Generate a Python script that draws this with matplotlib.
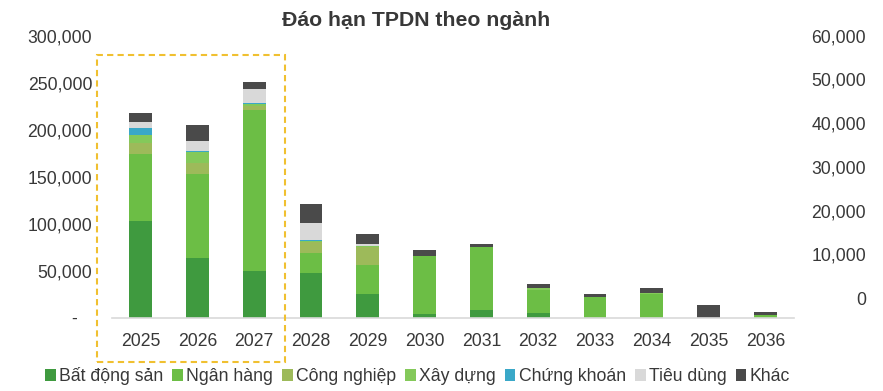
import numpy as np
import matplotlib.pyplot as plt
from matplotlib.patches import Rectangle

plt.rcParams["font.family"] = ["Liberation Sans", "DejaVu Sans"]

years = ["2025", "2026", "2027", "2028", "2029", "2030",
         "2031", "2032", "2033", "2034", "2035", "2036"]

# values (ty dong)
bat_dong_san = [103200, 63800, 50000, 47200, 24800, 3500, 8000, 5000, 0, 0, 0, 0]
ngan_hang = [70900, 89000, 170900, 21300, 31200, 62100, 67000, 24300, 21500, 25000, 0, 2500]
cong_nghiep = [11400, 11400, 4300, 12400, 19400, 0, 0, 0, 0, 0, 0, 0]
xay_dung = [8900, 12400, 2100, 800, 1200, 0, 0, 1800, 1000, 1200, 0, 0]
chung_khoan = [7800, 1100, 1100, 1000, 0, 0, 0, 0, 0, 0, 0, 0]
tieu_dung = [6400, 10200, 14500, 18400, 1400, 0, 0, 0, 0, 0, 0, 0]
khac = [9600, 17100, 7500, 19900, 11300, 6400, 3500, 4200, 2300, 5700, 14000, 3500]

series = [
    ("Bất động sản", bat_dong_san, "#3f9a3f"),
    ("Ngân hàng", ngan_hang, "#6cbe45"),
    ("Công nghiệp", cong_nghiep, "#9dba5a"),
    ("Xây dựng", xay_dung, "#84c95a"),
    ("Chứng khoán", chung_khoan, "#3aa8c8"),
    ("Tiêu dùng", tieu_dung, "#d9d9d9"),
    ("Khác", khac, "#4a4a4a"),
]

txt = "#383838"
fig = plt.figure(figsize=(8.83, 3.91), dpi=100)
ax = fig.add_axes([0.127, 0.1875, 0.772, 0.7215])

x = np.arange(len(years))
bottom = np.zeros(len(years))
for name, vals, col in series:
    ax.bar(x, vals, 0.4, bottom=bottom, color=col, label=name)
    bottom += np.array(vals)

ax.set_xlim(-0.5, 11.5)
ax.set_ylim(0, 300000)
ax.set_yticks(range(0, 300001, 50000))
ax.set_yticklabels(["-   "] + [f"{v:,}" for v in range(50000, 300001, 50000)])
ax.set_xticks(x)
ax.set_xticklabels(years)
ax.tick_params(axis="both", length=0, labelsize=12.7, colors=txt)
ax.tick_params(axis="x", pad=11)
ax.tick_params(axis="y", pad=14.4)
for s in ["top", "right", "left"]:
    ax.spines[s].set_visible(False)
ax.spines["bottom"].set_color("#d9d9d9")
ax.spines["bottom"].set_linewidth(1.2)

# secondary axis (scale only)
ax2 = ax.twinx()
ax2.set_ylim(-4500, 60000)
ax2.set_yticks(range(0, 60001, 10000))
ax2.set_yticklabels(["0"] + [f"{v:,}" for v in range(10000, 60001, 10000)])
ax2.tick_params(axis="y", length=0, labelsize=12.7, colors=txt, pad=52)
for lab in ax2.get_yticklabels():
    lab.set_ha("right")
for s in ax2.spines.values():
    s.set_visible(False)

# highlight box around 2025-2027
ax.add_patch(Rectangle((-0.76, -47000), 3.31, 326500, fill=False,
                       edgecolor="#f0c030", lw=1.5, ls=(0, (3, 2)),
                       clip_on=False, zorder=5))

fig.text(0.471, 0.948, "Đáo hạn TPDN theo ngành", ha="center", va="center",
         fontsize=15.3, fontweight="bold", color=txt)

ax.legend(loc="center", bbox_to_anchor=(0.473, 0.038),
          bbox_transform=fig.transFigure, ncol=7, frameon=False,
          fontsize=12.7, handlelength=0.6, handleheight=0.6,
          handletextpad=0.2, columnspacing=0.5, labelcolor=txt)

fig.savefig("out.png", dpi=100)
